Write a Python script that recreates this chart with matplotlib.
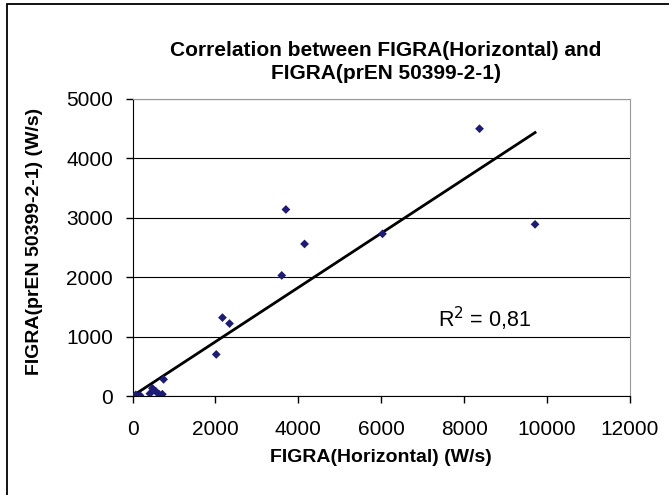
import numpy as np
import matplotlib
matplotlib.use("Agg")
import matplotlib.pyplot as plt
from matplotlib.patches import Rectangle

plt.rcParams['font.family'] = ['Liberation Sans', 'DejaVu Sans']

# FIGRA values (W/s)
figra_horizontal = [80, 180, 420, 480, 560, 640, 720, 750,
                    2020, 2170, 2340, 3600, 3700, 4150, 6030, 8370, 9710]
figra_en50399 = [20, 10, 40, 130, 80, 30, 30, 280,
                 700, 1320, 1220, 2030, 3140, 2560, 2730, 4500, 2890]

x_ticks = [0, 2000, 4000, 6000, 8000, 10000, 12000]
y_ticks = [0, 1000, 2000, 3000, 4000, 5000]
r2_label = "R$^2$ = 0,81"

W, H = 669, 495
fig = plt.figure(figsize=(W / 100, H / 100), dpi=100)
ax = fig.add_axes([132.5 / W, 1 - 396 / H, (630 - 132.5) / W, (396 - 99) / H])

x = np.array(figra_horizontal, dtype=float)
y = np.array(figra_en50399, dtype=float)

# linear trend line, intercept set to 0 (as in the sheet)
k = np.sum(x * y) / np.sum(x * x)
xl = np.array([x.min(), x.max()])
ax.plot(xl, k * xl, color='black', lw=2, zorder=3)

ax.scatter(x, y, marker='D', s=20, color='#1c1c78', edgecolors='none', zorder=4)

ax.set_xlim(0, 12000)
ax.set_ylim(0, 5000)
ax.set_xticks(x_ticks)
ax.set_yticks(y_ticks)
ax.yaxis.grid(True, color='black', lw=0.8)
ax.set_axisbelow(True)

for s in ['top', 'right']:
    ax.spines[s].set_color('#999999')
for s in ['left', 'bottom']:
    ax.spines[s].set_color('black')
ax.tick_params(direction='out', length=5, width=1, labelsize=15, color='black')
ax.tick_params(axis='x', pad=12)
ax.tick_params(axis='y', pad=9)

fig.text(381 / W, 1 - 458 / H, "FIGRA(Horizontal) (W/s)", fontsize=14,
         fontweight='bold', ha='center', va='center')
fig.text(35 / W, 1 - 241 / H, "FIGRA(prEN 50399-2-1) (W/s)", fontsize=14,
         fontweight='bold', ha='center', va='center', rotation=90)
fig.text(386 / W, 1 - 62 / H,
         "Correlation between FIGRA(Horizontal) and\nFIGRA(prEN 50399-2-1)",
         fontsize=15, fontweight='bold', ha='center', va='center', linespacing=1.3)

ax.text(7360, 1290, r2_label, fontsize=15.5, va='center', ha='left')

# outer chart frame (cut off at right and bottom)
fig.patches.append(Rectangle((7 / W, -0.1), 1.2, 1 - 4 / H + 0.1,
                             transform=fig.transFigure, fill=False,
                             edgecolor='black', lw=1.3))

fig.savefig("out.png", dpi=100)
